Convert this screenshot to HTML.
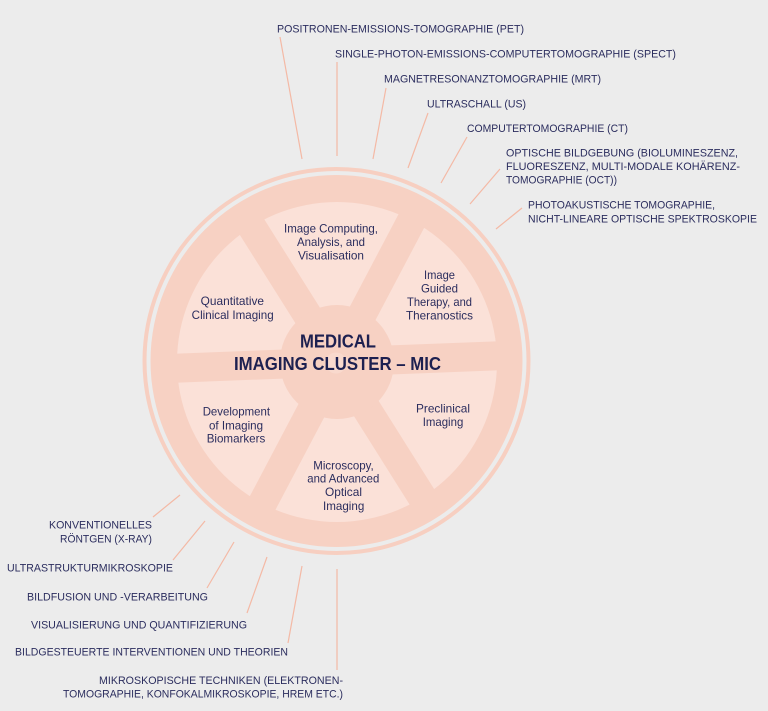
<!DOCTYPE html>
<html>
<head>
<meta charset="utf-8">
<style>
html,body{margin:0;padding:0;background:#ececec;}
svg{display:block;}
text{font-family:"Liberation Sans","DejaVu Sans",sans-serif;}
.o{font-size:11.3px;fill:#2b2d5e;}
.i{font-size:11.6px;fill:#2b2d5e;}
.t{font-size:18.5px;font-weight:bold;fill:#1d2050;}
</style>
</head>
<body>
<svg width="768" height="711" viewBox="0 0 768 711" xmlns="http://www.w3.org/2000/svg">
<rect x="0" y="0" width="768" height="711" fill="#ececec"/>

<!-- connector lines -->
<g stroke="#f4b9a5" stroke-width="1.2" fill="none">
<line x1="280" y1="37" x2="302" y2="159"/>
<line x1="337" y1="62" x2="337" y2="156"/>
<line x1="386" y1="88" x2="373" y2="159"/>
<line x1="428" y1="113" x2="408" y2="168"/>
<line x1="467" y1="137" x2="441" y2="183"/>
<line x1="500" y1="169" x2="470" y2="204"/>
<line x1="522" y1="208" x2="496" y2="229"/>
<line x1="180" y1="495" x2="153" y2="517"/>
<line x1="205" y1="521" x2="173" y2="560"/>
<line x1="234" y1="542" x2="207" y2="588"/>
<line x1="267" y1="557" x2="247" y2="613"/>
<line x1="302" y1="566" x2="288" y2="643"/>
<line x1="337" y1="569" x2="337" y2="670"/>
</g>

<!-- wheel -->
<circle cx="336.5" cy="361" r="192" fill="none" stroke="#f7cfc1" stroke-width="4"/>
<circle cx="336.5" cy="361" r="186" fill="#f7d1c3"/>
<circle cx="337" cy="362" r="160" fill="#fbe1d8"/>
<g transform="rotate(-2.2 337 362)" fill="#f7d1c3">
  <rect x="162" y="347.5" width="350" height="29"/>
  <rect x="162" y="347.5" width="350" height="29" transform="rotate(60 337 362)"/>
  <rect x="162" y="347.5" width="350" height="29" transform="rotate(-60 337 362)"/>
</g>
<circle cx="337" cy="362" r="57" fill="#f7d1c3"/>
<circle cx="336" cy="363" r="10.5" fill="#f9d9cd"/>

<!-- center title -->
<text class="t" x="300" y="347.3" textLength="76" lengthAdjust="spacingAndGlyphs">MEDICAL</text>
<text class="t" x="234" y="370" textLength="207" lengthAdjust="spacingAndGlyphs">IMAGING CLUSTER – MIC</text>

<!-- sector labels -->
<text class="i" x="284" y="232.3" textLength="94" lengthAdjust="spacingAndGlyphs">Image Computing,</text>
<text class="i" x="297" y="246" textLength="68" lengthAdjust="spacingAndGlyphs">Analysis, and</text>
<text class="i" x="298" y="259.3" textLength="66" lengthAdjust="spacingAndGlyphs">Visualisation</text>

<text class="i" x="424" y="279" textLength="31" lengthAdjust="spacingAndGlyphs">Image</text>
<text class="i" x="421" y="292.5" textLength="37" lengthAdjust="spacingAndGlyphs">Guided</text>
<text class="i" x="407" y="306" textLength="65" lengthAdjust="spacingAndGlyphs">Therapy, and</text>
<text class="i" x="406" y="319.7" textLength="67" lengthAdjust="spacingAndGlyphs">Theranostics</text>

<text class="i" x="200.7" y="305" textLength="63.3" lengthAdjust="spacingAndGlyphs">Quantitative</text>
<text class="i" x="191.7" y="319" textLength="82" lengthAdjust="spacingAndGlyphs">Clinical Imaging</text>

<text class="i" x="416" y="412.3" textLength="54" lengthAdjust="spacingAndGlyphs">Preclinical</text>
<text class="i" x="422.7" y="426" textLength="40.6" lengthAdjust="spacingAndGlyphs">Imaging</text>

<text class="i" x="202.7" y="415.7" textLength="67.3" lengthAdjust="spacingAndGlyphs">Development</text>
<text class="i" x="209" y="429.3" textLength="54" lengthAdjust="spacingAndGlyphs">of Imaging</text>
<text class="i" x="206.7" y="442.7" textLength="58.6" lengthAdjust="spacingAndGlyphs">Biomarkers</text>

<text class="i" x="313.3" y="469.3" textLength="60.4" lengthAdjust="spacingAndGlyphs">Microscopy,</text>
<text class="i" x="307.3" y="482.7" textLength="72" lengthAdjust="spacingAndGlyphs">and Advanced</text>
<text class="i" x="325" y="496" textLength="37" lengthAdjust="spacingAndGlyphs">Optical</text>
<text class="i" x="323" y="510" textLength="41.3" lengthAdjust="spacingAndGlyphs">Imaging</text>

<!-- top outer labels -->
<text class="o" x="277" y="32.3" textLength="247" lengthAdjust="spacingAndGlyphs">POSITRONEN-EMISSIONS-TOMOGRAPHIE (PET)</text>
<text class="o" x="335" y="57.3" textLength="341" lengthAdjust="spacingAndGlyphs">SINGLE-PHOTON-EMISSIONS-COMPUTERTOMOGRAPHIE (SPECT)</text>
<text class="o" x="384" y="82.3" textLength="217" lengthAdjust="spacingAndGlyphs">MAGNETRESONANZTOMOGRAPHIE (MRT)</text>
<text class="o" x="427" y="107.3" textLength="99" lengthAdjust="spacingAndGlyphs">ULTRASCHALL (US)</text>
<text class="o" x="467" y="132" textLength="161" lengthAdjust="spacingAndGlyphs">COMPUTERTOMOGRAPHIE (CT)</text>
<text class="o" x="506" y="156.7" textLength="232" lengthAdjust="spacingAndGlyphs">OPTISCHE BILDGEBUNG (BIOLUMINESZENZ,</text>
<text class="o" x="506" y="170" textLength="234" lengthAdjust="spacingAndGlyphs">FLUORESZENZ, MULTI-MODALE KOHÄRENZ-</text>
<text class="o" x="506" y="183.3" textLength="111" lengthAdjust="spacingAndGlyphs">TOMOGRAPHIE (OCT))</text>
<text class="o" x="528" y="208.3" textLength="187" lengthAdjust="spacingAndGlyphs">PHOTOAKUSTISCHE TOMOGRAPHIE,</text>
<text class="o" x="528" y="222.3" textLength="229" lengthAdjust="spacingAndGlyphs">NICHT-LINEARE OPTISCHE SPEKTROSKOPIE</text>

<!-- bottom outer labels -->
<text class="o" x="49" y="528.3" textLength="103" lengthAdjust="spacingAndGlyphs">KONVENTIONELLES</text>
<text class="o" x="60" y="542.3" textLength="92" lengthAdjust="spacingAndGlyphs">RÖNTGEN (X-RAY)</text>
<text class="o" x="7" y="571.7" textLength="166" lengthAdjust="spacingAndGlyphs">ULTRASTRUKTURMIKROSKOPIE</text>
<text class="o" x="27" y="600.7" textLength="181" lengthAdjust="spacingAndGlyphs">BILDFUSION UND -VERARBEITUNG</text>
<text class="o" x="31" y="628.3" textLength="216" lengthAdjust="spacingAndGlyphs">VISUALISIERUNG UND QUANTIFIZIERUNG</text>
<text class="o" x="15" y="655.7" textLength="273" lengthAdjust="spacingAndGlyphs">BILDGESTEUERTE INTERVENTIONEN UND THEORIEN</text>
<text class="o" x="99" y="684" textLength="244" lengthAdjust="spacingAndGlyphs">MIKROSKOPISCHE TECHNIKEN (ELEKTRONEN-</text>
<text class="o" x="63" y="697.3" textLength="280" lengthAdjust="spacingAndGlyphs">TOMOGRAPHIE, KONFOKALMIKROSKOPIE, HREM ETC.)</text>
</svg>
</body>
</html>
